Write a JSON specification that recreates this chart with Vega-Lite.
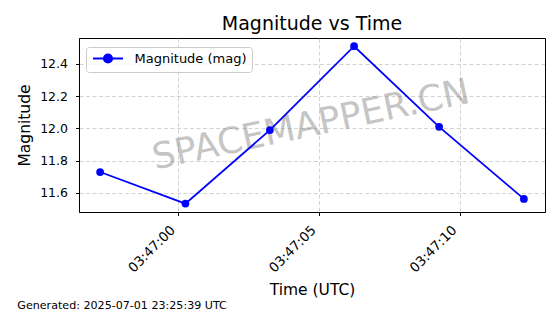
{
  "$schema": "https://vega.github.io/schema/vega-lite/v6.json",
  "width": 466,
  "height": 174,
  "autosize": {"type": "none"},
  "padding": {"left": 79, "top": 38, "right": 15, "bottom": 102},
  "background": "white",
  "config": {
    "font": "DejaVu Sans",
    "view": {"stroke": "black", "strokeWidth": 1}
  },
  "title": {
    "text": "Magnitude vs Time",
    "fontSize": 19,
    "fontWeight": "normal",
    "font": "DejaVu Sans",
    "color": "black",
    "offset": 4
  },
  "datasets": {
    "obs": [
      {"time": "2025-07-01T03:46:57.22Z", "mag": 11.73},
      {"time": "2025-07-01T03:47:00.25Z", "mag": 11.534},
      {"time": "2025-07-01T03:47:03.25Z", "mag": 11.99},
      {"time": "2025-07-01T03:47:06.24Z", "mag": 12.51},
      {"time": "2025-07-01T03:47:09.26Z", "mag": 12.01},
      {"time": "2025-07-01T03:47:12.27Z", "mag": 11.563}
    ],
    "watermark": [
      {"time": "2025-07-01T03:47:04.71Z", "mag": 12.02, "text": "SPACEMAPPER.CN"}
    ],
    "footer": [
      {"time": "2025-07-01T03:46:54.28Z", "mag": 10.8825, "text": "Generated: 2025-07-01 23:25:39 UTC"}
    ]
  },
  "encoding": {
    "x": {
      "field": "time",
      "type": "temporal",
      "scale": {
        "type": "utc",
        "domain": [1751341616470, 1751341633020],
        "nice": false
      },
      "axis": {
        "title": "Time (UTC)",
        "format": "%H:%M:%S",
        "values": [1751341620000, 1751341625000, 1751341630000],
        "labelAngle": -45,
        "labelAlign": "right",
        "labelBaseline": "alphabetic",
        "labelFontSize": 13.3,
        "labelColor": "black",
        "labelPadding": 15,
        "labelOffset": -3,
        "labelFlush": false,
        "labelOverlap": false,
        "titleFontSize": 15.5,
        "titleFontWeight": "normal",
        "titleColor": "black",
        "titlePadding": 8,
        "domainColor": "black",
        "tickColor": "black",
        "tickSize": 3.5,
        "grid": true,
        "gridDash": [4, 2.5],
        "gridColor": "#b0b0b0",
        "gridOpacity": 0.7,
        "gridWidth": 0.8
      }
    },
    "y": {
      "field": "mag",
      "type": "quantitative",
      "scale": {"domain": [11.482, 12.561], "nice": false, "zero": false},
      "axis": {
        "title": "Magnitude",
        "values": [11.6, 11.8, 12.0, 12.2, 12.4],
        "format": ".1f",
        "labelFontSize": 12.5,
        "labelColor": "black",
        "labelPadding": 8,
        "titleFontSize": 15.5,
        "titleFontWeight": "normal",
        "titleColor": "black",
        "titlePadding": 7,
        "domainColor": "black",
        "tickColor": "black",
        "tickSize": 3.5,
        "grid": true,
        "gridDash": [4, 2.5],
        "gridColor": "#b0b0b0",
        "gridOpacity": 0.7,
        "gridWidth": 0.8
      }
    }
  },
  "layer": [
    {
      "data": {"name": "watermark"},
      "mark": {
        "type": "text",
        "fontSize": 36,
        "font": "DejaVu Sans",
        "angle": -12,
        "align": "center",
        "baseline": "middle",
        "color": "#808080",
        "opacity": 0.45
      },
      "encoding": {"text": {"field": "text"}}
    },
    {
      "data": {"name": "obs"},
      "mark": {"type": "line", "color": "#0000ff", "strokeWidth": 1.8},
      "encoding": {}
    },
    {
      "data": {"name": "obs"},
      "mark": {"type": "point", "filled": true, "opacity": 1, "size": 60},
      "encoding": {
        "color": {
          "datum": "Magnitude (mag)",
          "type": "nominal",
          "scale": {"range": ["#0000ff"]},
          "legend": {
            "title": null,
            "orient": "none",
            "legendX": 7,
            "legendY": 9,
            "symbolType": "M-2.727,0H2.727M-0.764,0A0.764,0.764 0 1,1 0.764,0A0.764,0.764 0 1,1 -0.764,0Z",
            "symbolSize": 121,
            "symbolStrokeWidth": 1.8,
            "symbolFillColor": "#0000ff",
            "symbolStrokeColor": "#0000ff",
            "symbolOpacity": 1,
            "symbolOffset": 10.5,
            "labelOffset": 20,
            "labelFontSize": 13,
            "labelColor": "black",
            "padding": 5,
            "fillColor": "rgba(255,255,255,0.8)",
            "strokeColor": "#cccccc",
            "cornerRadius": 3
          }
        }
      }
    },
    {
      "data": {"name": "footer"},
      "mark": {
        "type": "text",
        "fontSize": 11.1,
        "font": "DejaVu Sans",
        "align": "left",
        "baseline": "alphabetic",
        "color": "black"
      },
      "encoding": {"text": {"field": "text"}}
    }
  ]
}
